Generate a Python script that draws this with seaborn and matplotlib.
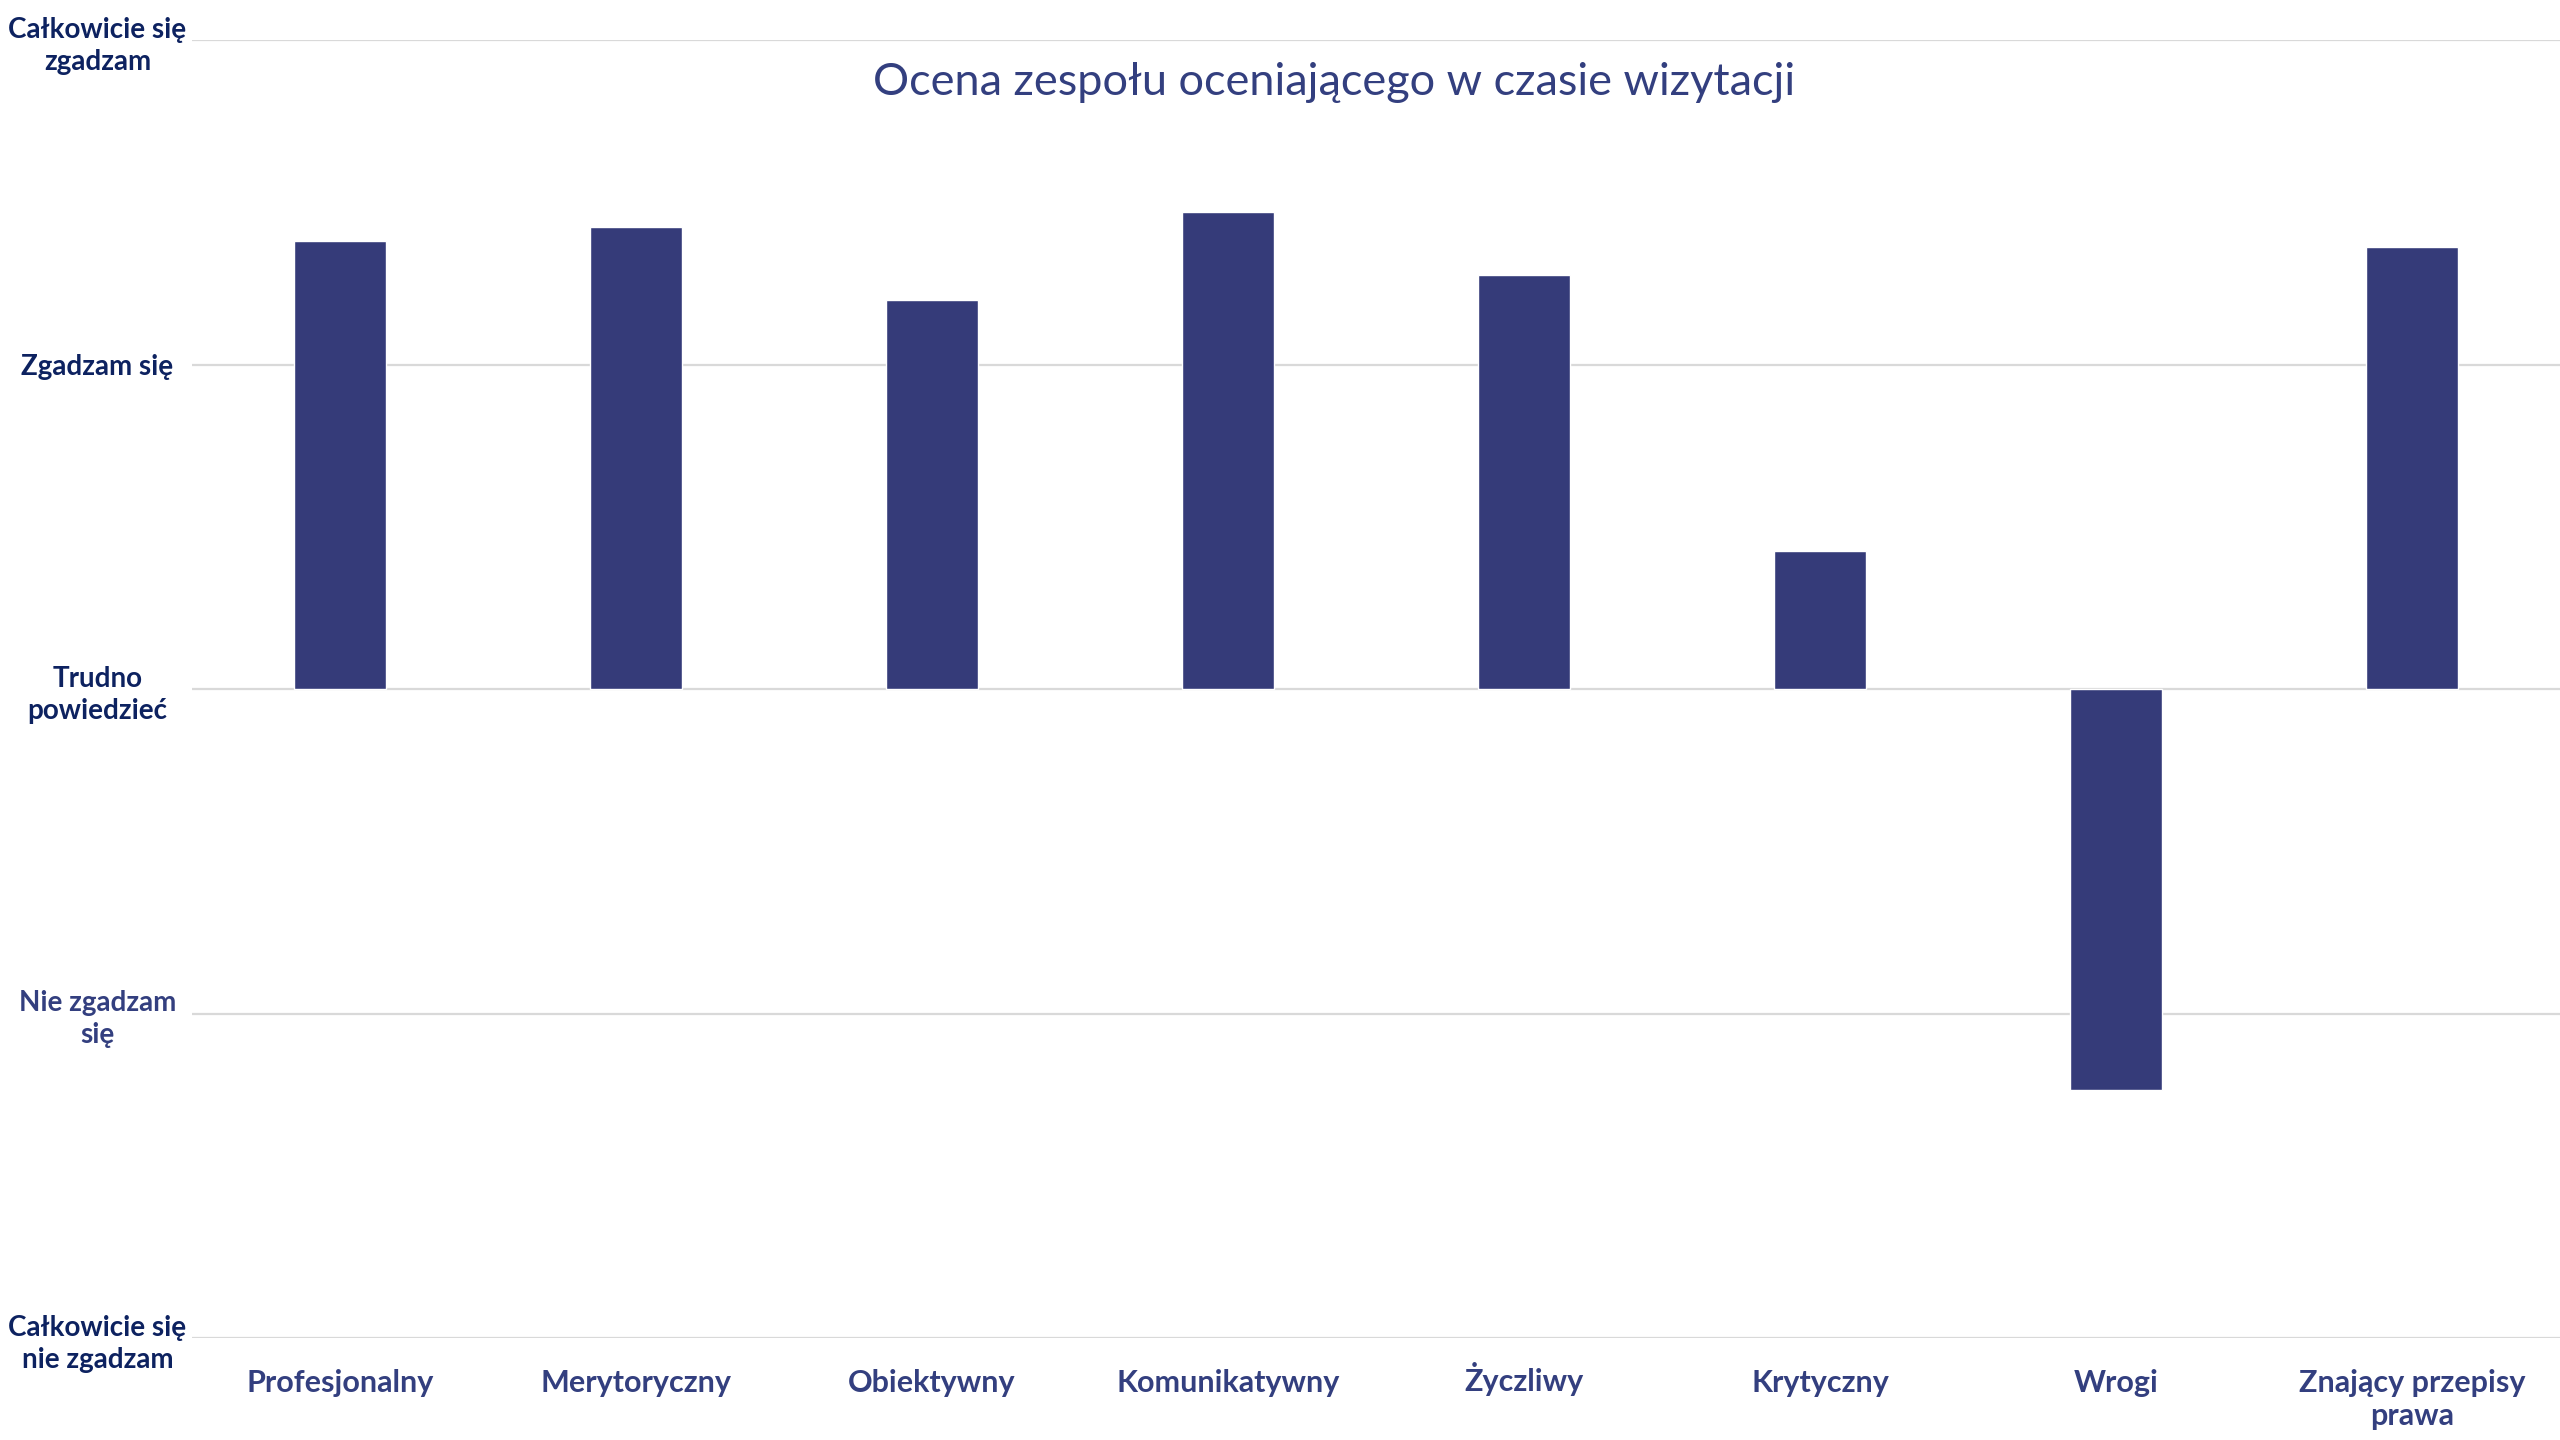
import matplotlib
matplotlib.use('Agg')
import matplotlib.pyplot as plt
import matplotlib.transforms as mtransforms
import seaborn as sns
import pandas as pd

# Data
categories = ['Profesjonalny', 'Merytoryczny', 'Obiektywny', 'Komunikatywny',
              'Życzliwy', 'Krytyczny', 'Wrogi', 'Znający przepisy\nprawa']
scores = [1.38, 1.425, 1.20, 1.47, 1.275, 0.425, -1.235, 1.363]

scale_values = [-2, -1, 0, 1, 2]
scale_labels = ['Całkowicie się\nnie zgadzam', 'Nie zgadzam\nsię', 'Trudno\npowiedzieć',
                'Zgadzam się', 'Całkowicie się\nzgadzam']

title = 'Ocena zespołu oceniającego w czasie wizytacji'

bar_color = '#353b79'
label_dark = '#0d2260'
label_mid = '#333f7f'

sns.set_theme(style='white')
plt.rcParams['font.family'] = ['Lato', 'DejaVu Sans']

df = pd.DataFrame({'kategoria': categories, 'ocena': scores})

fig = plt.figure(figsize=(25.6, 14.4), dpi=100)
ax = fig.add_axes([0.075, 0.0708, 0.925, 0.9014])

sns.barplot(data=df, x='kategoria', y='ocena', color=bar_color, width=0.31,
            saturation=1, ax=ax, zorder=3)

ax.set_ylim(-2, 2)
ax.set_xlim(-0.5, len(categories) - 0.5)
ax.set_yticks(scale_values)
ax.set_yticklabels(scale_labels, fontsize=20, fontweight='bold',
                   ha='center', linespacing=1.3)
for lbl, val in zip(ax.get_yticklabels(), scale_values):
    lbl.set_color(label_mid if val == -1 else label_dark)
ax.tick_params(axis='y', length=0, pad=68)

ax.tick_params(axis='x', length=0, pad=22)
ax.set_xticks(range(len(categories)))
ax.set_xticklabels(categories, fontsize=22, fontweight='bold', color=label_mid,
                   linespacing=1.25)

# the dot over Ż pushes that label down a bit, nudge it back up
for lbl in ax.get_xticklabels():
    if lbl.get_text().startswith('Ż'):
        lbl.set_transform(lbl.get_transform() +
                          mtransforms.ScaledTranslation(0, 4.5 / 72, fig.dpi_scale_trans))

ax.grid(axis='y', color='#d9d9d9', linewidth=1.6, zorder=0)
ax.grid(axis='x', visible=False)
for spine in ax.spines.values():
    spine.set_visible(False)

ax.set_xlabel('')
ax.set_ylabel('')

fig.text(0.521, 0.943, title, ha='center', va='center', fontsize=32.5,
         color=label_mid)

fig.savefig('out.png', dpi=100, facecolor='white')
